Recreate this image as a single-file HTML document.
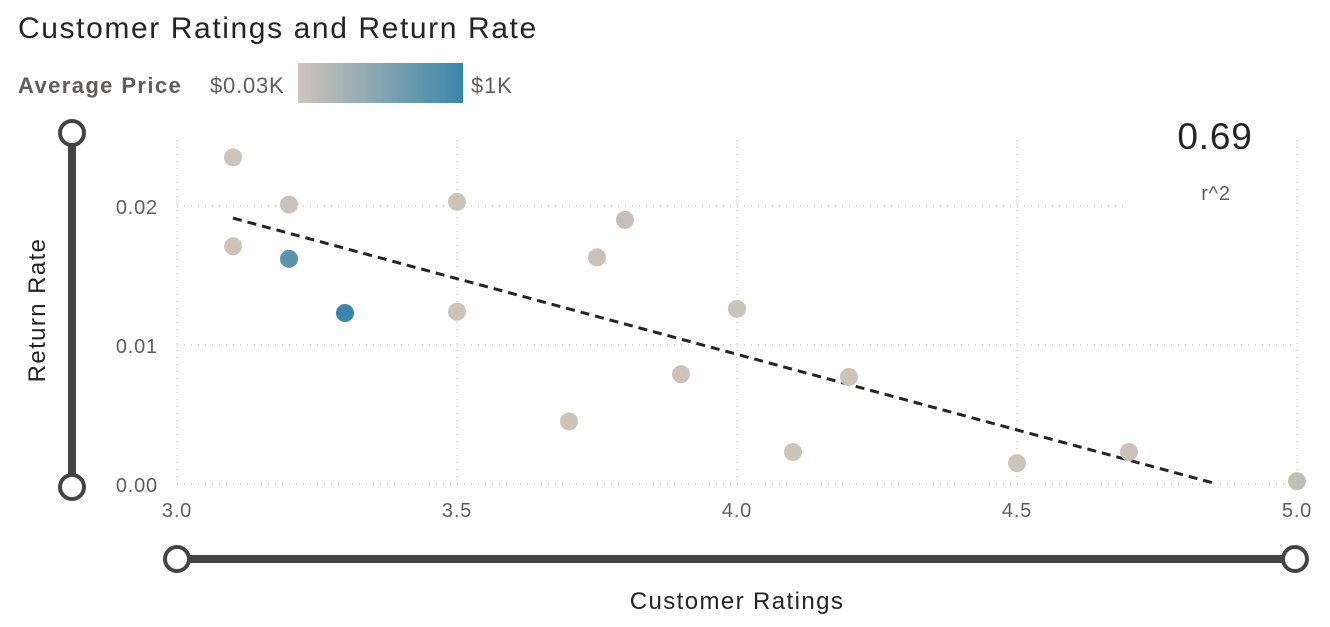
<!DOCTYPE html>
<html><head><meta charset="utf-8"><style>
html,body{margin:0;padding:0;background:#fff;width:1330px;height:627px;overflow:hidden;font-family:"Liberation Sans",sans-serif}
svg{display:block}
text{letter-spacing:0.8px}
</style></head><body>
<svg id="chart" width="1330" height="627">
<defs><linearGradient id="grad" x1="0" x2="1" y1="0" y2="0"><stop offset="0" stop-color="#cfc4b9"/><stop offset="1" stop-color="#3a86aa"/></linearGradient></defs>
<text x="18" y="38" font-size="30" fill="#252423" style="letter-spacing:1.6px">Customer Ratings and Return Rate</text>
<text x="18" y="93" font-size="22" font-weight="bold" fill="#605e5c" style="letter-spacing:1.4px">Average Price</text>
<text x="210" y="93" font-size="22" fill="#605e5c">$0.03K</text>
<rect x="298" y="63" width="165" height="40" fill="url(#grad)"/>
<text x="471" y="93" font-size="22" fill="#605e5c">$1K</text>
<g id="grid"></g>
<g id="axes"></g>
<path id="trend" fill="none" stroke="#252423" stroke-width="3" stroke-dasharray="9,6"/>
<g id="points"></g>
<text x="1215" y="149" font-size="37" fill="#252423" text-anchor="middle">0.69</text>
<text x="1216" y="200" font-size="20" fill="#605e5c" text-anchor="middle">r^2</text>
<text transform="translate(45,310) rotate(-90)" font-size="24" fill="#252423" text-anchor="middle" style="letter-spacing:1.4px">Return Rate</text>
<text x="737" y="609" font-size="24" fill="#252423" text-anchor="middle" style="letter-spacing:1.4px">Customer Ratings</text>
<line x1="72" y1="133" x2="72" y2="487" stroke="#444" stroke-width="8"/>
<circle cx="72" cy="133" r="12" fill="#fff" stroke="#444" stroke-width="4"/>
<circle cx="72" cy="487" r="12" fill="#fff" stroke="#444" stroke-width="4"/>
<line x1="177" y1="559" x2="1295" y2="559" stroke="#444" stroke-width="8"/>
<circle cx="177" cy="559" r="12" fill="#fff" stroke="#444" stroke-width="4"/>
<circle cx="1295" cy="559" r="12" fill="#fff" stroke="#444" stroke-width="4"/>
</svg>
<script>
const ratings=[3.1,3.2,3.5,3.8,3.1,3.2,3.75,3.3,3.5,4.0,3.9,4.2,3.7,4.1,4.5,4.7,5.0];
const returnRates=[0.0235,0.0201,0.0203,0.019,0.0171,0.0162,0.0163,0.0123,0.0124,0.0126,0.0079,0.0077,0.0045,0.0023,0.0015,0.0023,0.0002];
const prices=[30,60,40,90,40,800,60,1000,40,50,40,40,40,40,40,60,120];
const xTicks=[3.0,3.5,4.0,4.5,5.0];
const yTicks=[0,0.01,0.02];
const yTickLabels=["0.00","0.01","0.02"];
const NS="http://www.w3.org/2000/svg";
const xs=v=>177+(v-3)*560, ys=v=>484-v*13900;
function mk(t,a,p){const e=document.createElementNS(NS,t);for(const k in a)e.setAttribute(k,a[k]);p.appendChild(e);return e;}
const grid=document.getElementById('grid'),axes=document.getElementById('axes'),pts=document.getElementById('points');
xTicks.forEach(t=>{
 const l=mk('line',{x1:xs(t),x2:xs(t),y1:140,y2:484,stroke:'#c8c8c8','stroke-width':1.5,'stroke-dasharray':'1,6'},grid);
 
 
 const tx=mk('text',{x:xs(t),y:517,'font-size':20,fill:'#605e5c','text-anchor':'middle'},axes);
 tx.textContent=t.toFixed(1);
 
 
});
yTicks.forEach((t,i)=>{
 const l=mk('line',{x1:177,x2:t>0.015?1125:1297,y1:ys(t),y2:ys(t),stroke:'#c8c8c8','stroke-width':1.5,'stroke-dasharray':'1,6'},grid);
 
 
 const tx=mk('text',{x:158,y:ys(t)+8,'font-size':20,fill:'#605e5c','text-anchor':'end'},axes);
 tx.textContent=yTickLabels[i];
 
 
});
function col(p){const f=Math.max(0,Math.min(1,(p-30)/970));const a=[207,196,185],b=[58,134,170];return 'rgb('+a.map((c,i)=>Math.round(c+(b[i]-c)*f)).join(',')+')';}
const n=ratings.length;let mx=0,my=0;ratings.forEach((x,i)=>{mx+=x;my+=returnRates[i];});mx/=n;my/=n;
let sxy=0,sxx=0;ratings.forEach((x,i)=>{sxy+=(x-mx)*(returnRates[i]-my);sxx+=(x-mx)*(x-mx);});
const slope=sxy/sxx,ic=my-slope*mx;
const x0=Math.min(...ratings);let x1=Math.max(...ratings);const xz=-ic/slope;if(slope<0&&xz<x1)x1=xz;
document.getElementById('trend').setAttribute('d','M'+xs(x0)+','+ys(ic+slope*x0)+' L'+xs(x1)+','+ys(ic+slope*x1));
ratings.forEach((r,i)=>{
 const c=mk('circle',{cx:xs(r),cy:ys(returnRates[i]),r:9,fill:col(prices[i])},pts);
 
 
});
</script>
</body></html>
